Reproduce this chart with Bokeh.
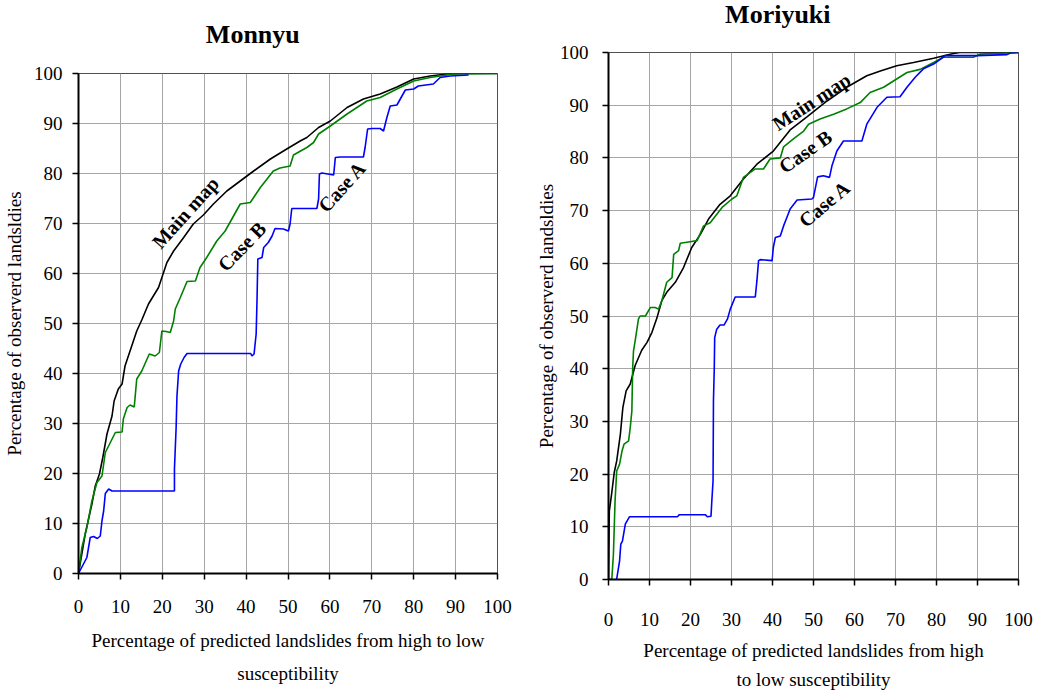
from math import radians
from bokeh.plotting import figure
from bokeh.models import Range1d, Label, FixedTicker, Title
from bokeh.layouts import row, column
from bokeh.embed import file_html
from bokeh.resources import INLINE

# ---------------- data ----------------
tick_values = [0, 10, 20, 30, 40, 50, 60, 70, 80, 90, 100]

# Monnyu
mon_main_x = [0, 1.6, 3.2, 4.0, 5.0, 5.8, 6.8, 8.0, 8.5, 9.5, 10.4, 11.1, 12.3, 13.9, 15.1, 16.7, 19.1, 19.9, 21.1, 22.7,
              25.1, 27.4, 29.8, 32.2, 35.4, 38.6, 41.8, 45.8, 49.7, 52.9, 54.5, 57.3, 60.1, 64.1, 68.0, 72.0, 76.0, 80.0,
              83.9, 87.9, 92, 100]
mon_main_y = [0, 7.9, 13.9, 17.5, 19.9, 23.2, 27.9, 31.5, 34.5, 36.9, 37.9, 41.5, 44.5, 48.5, 50.7, 53.9, 57.2, 59.2, 62.2, 64.5,
              67.2, 69.9, 71.7, 73.9, 76.5, 78.5, 80.5, 82.9, 84.9, 86.5, 87.2, 89.2, 90.5, 93.2, 94.9, 95.9, 97.3, 98.9,
              99.5, 99.9, 100, 100]

mon_caseb_x = [0, 0.8, 2.0, 3.2, 4.4, 5.6, 6.4, 7.6, 8.8, 10.4, 10.7, 11.6, 12.3, 13.3, 13.9, 15.1, 16.9, 18.3, 19.3, 19.9,
               20.9, 21.9, 22.7, 23.1, 24.3, 25.9, 27.9, 29.0, 30.6, 33.0, 35.0, 37.0, 38.6, 41.0, 43.4, 46.5, 48.1, 50.5,
               51.3, 54.5, 56.1, 57.3, 60.1, 64.1, 68.8, 72.0, 76.0, 80.0, 83.9, 89.5, 100]
mon_caseb_y = [0, 5.2, 9.2, 14.5, 18.2, 19.5, 24.2, 26.2, 28.2, 28.3, 30.9, 33.2, 33.7, 33.3, 38.9, 40.5, 43.9, 43.5, 44.2, 48.5,
               48.4, 48.2, 50.5, 52.9, 55.2, 58.4, 58.5, 61.2, 63.2, 66.5, 68.5, 71.5, 73.9, 74.2, 77.2, 80.5, 81.1, 81.5,
               83.7, 85.2, 86.2, 87.9, 89.5, 91.9, 94.5, 95.2, 96.9, 98.5, 99.2, 99.9, 100]

mon_casea_x = [0, 2.0, 2.8, 3.6, 4.5, 5.2, 5.6, 6.0, 6.4, 7.2, 8.0, 22.9, 22.9, 23.3, 23.5, 23.9, 24.4, 25.2, 25.9, 41.1,
               41.4, 41.9, 42.4, 42.6, 42.8, 43.8, 44.2, 45.3, 46.2, 46.9, 48.9, 50.1, 50.5, 50.9, 56.9, 57.3, 57.5, 58.1,
               60.9, 61.3, 62.5, 68.0, 68.4, 69.0, 70.0, 72.0, 72.8, 73.6, 74.4, 76.0, 78.0, 80.0, 81.1, 84.7, 86.3, 88.7,
               93.1]
mon_casea_y = [0, 3.2, 7.2, 7.4, 7.0, 7.5, 10.5, 12.5, 16.0, 16.9, 16.5, 16.5, 20.9, 29.2, 35.5, 40.5, 41.9, 43.2, 44.0, 44.0,
               43.5, 43.9, 47.9, 54.5, 62.9, 63.2, 65.2, 66.2, 67.5, 69.0, 68.9, 68.5, 69.9, 73.0, 73.0, 74.9, 79.9, 80.1,
               79.7, 83.2, 83.3, 83.3, 85.2, 88.9, 89.0, 89.0, 88.5, 91.2, 93.5, 93.7, 96.7, 96.9, 97.5, 97.9, 99.2, 99.5,
               99.7]

# Moriyuki
mor_main_x = [0, 0.2, 0.8, 1.4, 2.0, 2.9, 3.5, 4.3, 5.3, 6.5, 8.1, 9.4, 10.6, 11.8, 13.0, 14.2, 16.3, 18.3, 20.3, 22.4,
              24.4, 27.2, 29.7, 32.9, 36.2, 40.2, 44.3, 48.4, 53.3, 58.1, 63.0, 66.3, 70.3, 74.4, 79.3, 84.1, 85.7, 100]
mor_main_y = [0, 13.0, 16.5, 20.3, 22.5, 27.6, 32.6, 35.8, 37.1, 40.6, 43.5, 45.0, 46.9, 49.6, 52.9, 54.5, 56.4, 59.2, 63.0, 65.5,
              68.4, 71.2, 72.8, 76.0, 78.8, 81.3, 85.3, 87.8, 90.8, 93.4, 95.6, 96.5, 97.5, 98.1, 98.9, 99.8, 100, 100]

mor_caseb_x = [0, 0.8, 1.2, 1.6, 2.0, 2.7, 3.3, 3.8, 4.9, 5.3, 5.7, 5.9, 6.1, 6.5, 7.3, 7.7, 9.0, 10.2, 11.4, 12.2,
               13.0, 14.2, 15.5, 15.9, 17.1, 17.5, 19.9, 21.6, 23.2, 24.8, 27.7, 30.1, 31.3, 32.9, 35.8, 37.8, 39.4, 41.9,
               42.7, 45.1, 47.6, 48.8, 51.6, 54.9, 58.1, 61.4, 63.8, 67.1, 69.5, 72.8, 76.0, 79.3, 81.7, 89.0, 90.7, 100]
mor_caseb_y = [0, 0, 4.8, 14.9, 20.6, 21.9, 24.4, 25.7, 26.3, 28.8, 32.0, 40.2, 43.4, 45.3, 49.4, 50.0, 50.0, 51.6, 51.6, 51.3,
               52.9, 56.4, 57.3, 61.7, 62.4, 63.8, 64.1, 64.3, 67.1, 67.7, 70.6, 72.2, 72.8, 76.3, 77.9, 77.9, 79.8, 80.0,
               82.1, 83.6, 85.1, 86.4, 87.4, 88.3, 89.3, 90.5, 92.4, 93.4, 94.6, 96.2, 96.8, 98.1, 99.1, 99.1, 99.7, 100]

mor_casea_x = [0, 0.5, 1.2, 2.0, 2.7, 3.0, 3.4, 4.1, 5.1, 16.8, 17.3, 23.6, 24.1, 25.0, 25.2, 25.5, 25.6, 25.8, 25.9, 26.4,
               27.2, 28.2, 29.0, 29.7, 30.9, 35.8, 36.2, 36.6, 37.0, 39.9, 40.2, 40.7, 41.9, 42.7, 43.5, 44.3, 46.0, 49.6,
               50.0, 51.0, 52.4, 53.9, 54.5, 55.7, 57.3, 61.8, 63.0, 65.5, 67.9, 71.1, 72.8, 74.8, 76.8, 79.3, 80.9, 82.1,
               89.9, 97.2, 98.0, 100]
mor_casea_y = [0, 0, -0.4, 0.1, 3.5, 6.7, 7.3, 10.5, 11.9, 11.9, 12.3, 12.3, 11.9, 12.0, 14.9, 18.7, 33.9, 40.2, 45.9, 47.5,
               48.3, 48.3, 49.4, 51.3, 53.6, 53.6, 56.7, 60.5, 60.7, 60.5, 63.0, 64.9, 65.2, 67.1, 68.7, 70.3, 72.0, 72.2,
               72.5, 76.4, 76.6, 76.3, 78.5, 81.3, 83.2, 83.2, 86.4, 89.6, 91.5, 91.6, 93.4, 95.3, 96.9, 97.8, 98.7, 99.4,
               99.4, 99.6, 99.9, 100]

titles = ["Monnyu", "Moriyuki"]
y_title = "Percentage of observerd landsldies"
x_title_left = ["Percentage of predicted landslides from high to low", "susceptibility"]
x_title_right = ["Percentage of predicted landslides from high", "to low susceptibility"]
series_names = ["Main map", "Case B", "Case A"]
series_colors = ["black", "#008000", "#0000ff"]

SERIF = "Liberation Serif"
TOP = 14  # top border of each chart (room for the "100" tick label)


def make_fig(width, height, bl, br, bb, tick_standoff_x, tick_standoff_y, ylab_standoff):
    p = figure(width=width, height=height, output_backend="svg", toolbar_location=None, title=None,
               x_range=Range1d(0, 100), y_range=Range1d(0, 100),
               min_border_left=bl, min_border_right=br, min_border_top=TOP, min_border_bottom=bb,
               background_fill_color="white", border_fill_color="white")
    p.outline_line_color = "#505050"
    p.outline_line_width = 1
    for ax in (p.xaxis, p.yaxis):
        ax.ticker = FixedTicker(ticks=tick_values)
        ax.axis_line_color = "black"
        ax.axis_line_width = 2
        ax.major_tick_line_color = "black"
        ax.major_tick_line_width = 1.5
        ax.major_tick_out = 6
        ax.major_tick_in = 0
        ax.minor_tick_line_color = None
        ax.major_label_text_font = SERIF
        ax.major_label_text_font_size = "19px"
        ax.major_label_text_color = "black"
    p.xaxis.major_label_standoff = tick_standoff_x
    p.yaxis.major_label_standoff = tick_standoff_y
    p.yaxis.axis_label = y_title
    p.yaxis.axis_label_text_font = SERIF
    p.yaxis.axis_label_text_font_size = "19px"
    p.yaxis.axis_label_text_font_style = "normal"
    p.yaxis.axis_label_text_color = "black"
    p.yaxis.axis_label_standoff = ylab_standoff
    p.grid.grid_line_color = "#a6a6a6"
    p.grid.grid_line_width = 1
    return p


def make_title_fig(width, height, bl, br, text, x, baseline_from_top):
    # a blank strip above a chart that carries its bold title (same x scale as the chart)
    t = figure(width=width, height=height, output_backend="svg", toolbar_location=None, title=None,
               x_range=Range1d(0, 100), y_range=Range1d(0, height),
               min_border_left=bl, min_border_right=br, min_border_top=0, min_border_bottom=0,
               background_fill_color="white", border_fill_color="white")
    t.axis.visible = False
    t.grid.visible = False
    t.outline_line_color = None
    t.add_layout(Label(x=x, y=height - baseline_from_top, text=text, text_font=SERIF, text_font_size="26px",
                       text_font_style="bold", text_align="center", text_baseline="alphabetic",
                       text_color="black"))
    return t


def add_xlabel(p, text, standoff):
    p.add_layout(Title(text=text, align="center", standoff=standoff, text_font=SERIF,
                       text_font_size="19px", text_font_style="normal", text_color="black"), "below")


def add_curve_label(p, x, y, text, angle_deg):
    p.add_layout(Label(x=x, y=y, text=text, text_font=SERIF, text_font_size="20px",
                       text_font_style="bold", angle=radians(angle_deg),
                       text_align="center", text_baseline="middle", text_color="black"))


# ---------------- left: Monnyu ----------------
t1 = make_title_fig(528, 73 - TOP, 78, 31, titles[0], 41.6, 33.5)
p1 = make_fig(528, 690 - (73 - TOP), 78, 31, 117, 20, 10, 6)
for xs, ys, c in zip([mon_main_x, mon_caseb_x, mon_casea_x], [mon_main_y, mon_caseb_y, mon_casea_y], series_colors):
    p1.line(xs, ys, line_color=c, line_width=1.6)
add_xlabel(p1, x_title_left[0], 24)
add_xlabel(p1, x_title_left[1], -3)
add_curve_label(p1, 25.5, 72.2, series_names[0], 48)
add_curve_label(p1, 39.0, 65.4, series_names[1], 46)
add_curve_label(p1, 62.9, 77.4, series_names[2], 48)

# ---------------- right: Moriyuki ----------------
t2 = make_title_fig(505, 52 - TOP, 80, 15, titles[1], 41.3, 13.5)
p2 = make_fig(505, 692 - (52 - TOP), 80, 15, 113, 27, 14, 0)
for xs, ys, c in zip([mor_main_x, mor_caseb_x, mor_casea_x], [mor_main_y, mor_caseb_y, mor_casea_y], series_colors):
    p2.line(xs, ys, line_color=c, line_width=1.6)
add_xlabel(p2, x_title_right[0], 18)
add_xlabel(p2, x_title_right[1], -6)
add_curve_label(p2, 49.5, 90.7, series_names[0], 33)
add_curve_label(p2, 48.0, 81.2, series_names[1], 35)
add_curve_label(p2, 52.7, 71.3, series_names[2], 40)

layout = row(column(t1, p1), column(t2, p2))
open("out.html", "w").write(file_html(layout, INLINE))
